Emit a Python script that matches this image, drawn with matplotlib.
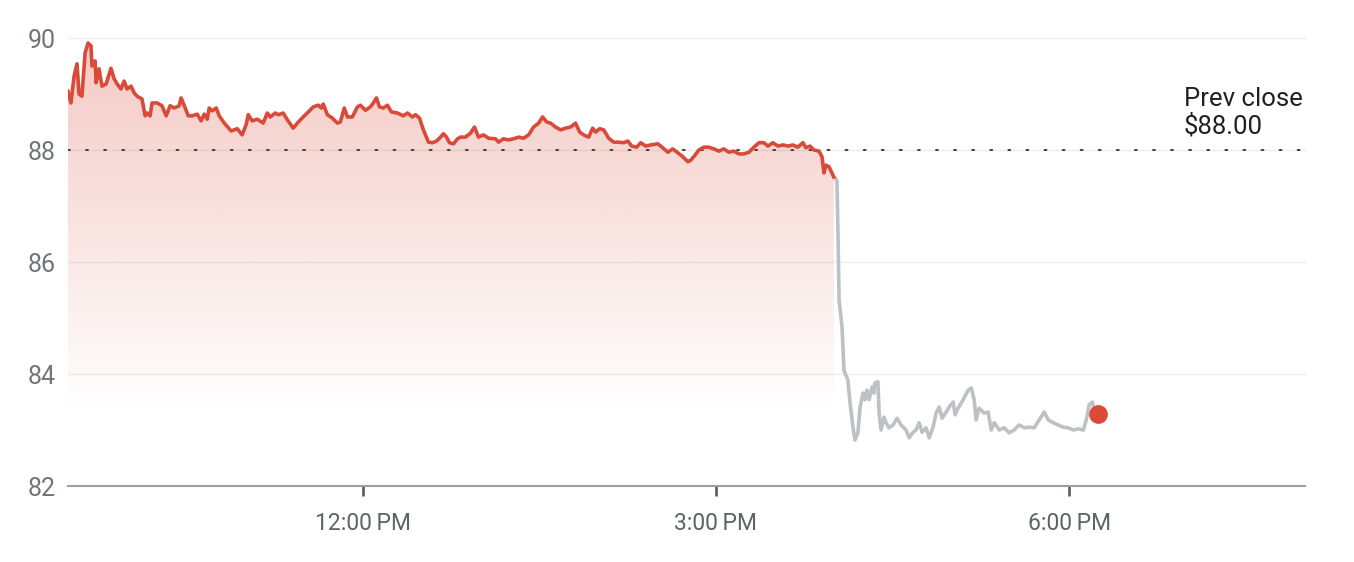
import numpy as np
import matplotlib
matplotlib.use("Agg")
import matplotlib.pyplot as plt

# ---- data: minutes after 9:30 AM and price ----
reg_minutes = [0, 1.5, 3.1, 4.6, 5.6, 7.1, 8.7, 10.2, 11.7, 12.2, 13.8, 14.3, 15.8, 17.3, 19.4,
               21.9, 23.5, 25.0, 27.0, 28.6, 30.1, 32.1, 33.7, 35.2, 37.7, 39.3, 40.3, 41.8,
               42.8, 45.4, 47.9, 50.0, 52.0, 54.1, 56.6, 57.6, 59.7, 61.2, 63.2, 65.8, 67.8,
               69.4, 70.9, 71.9, 73.4, 75.5, 77.0, 79.6, 83.1, 86.2, 88.7, 90.8, 91.8, 93.8,
               96.4, 99.4, 101.5, 103.0, 105.6, 107.1, 109.6, 111.7, 114.7, 117.3, 119.8,
               122.4, 124.9, 127.5, 129.0, 130.0, 132.1, 134.6, 137.2, 138.7, 140.7, 142.3,
               144.8, 147.4, 148.9, 151.5, 154.0, 155.5, 157.1, 158.6, 160.6, 162.7, 164.7,
               167.8, 170.8, 172.9, 175.4, 177.0, 179.0, 181.0, 183.6, 185.6, 187.7, 189.2,
               191.2, 192.8, 194.3, 196.3, 198.4, 199.9, 202.4, 205.0, 207.0, 209.1, 211.6,
               214.2, 217.7, 219.3, 221.8, 224.4, 226.9, 229.5, 232.0, 234.6, 237.1, 239.7,
               241.7, 243.8, 245.8, 248.3, 250.9, 253.4, 256.0, 258.5, 260.6, 262.6, 265.2,
               267.2, 268.7, 270.8, 272.8, 275.4, 277.9, 280.5, 283.0, 285.1, 287.1, 289.6,
               291.7, 294.2, 296.8, 300.4, 302.9, 305.5, 308.0, 310.6, 313.1, 315.7, 317.2,
               318.7, 321.3, 323.8, 326.4, 328.9, 331.5, 334.0, 336.6, 339.1, 341.7, 344.2,
               346.8, 349.3, 351.9, 354.4, 356.5, 359.0, 361.6, 364.1, 366.7, 369.2, 371.7,
               374.3, 375.8, 377.9, 379.9, 382.5, 384.0, 385.0, 386.0, 387.6, 390.0]
reg_prices = [89.05, 88.84, 89.32, 89.54, 89.00, 88.96, 89.73, 89.91, 89.86, 89.50, 89.59, 89.20,
              89.45, 89.14, 89.18, 89.46, 89.27, 89.18, 89.09, 89.23, 89.09, 89.14, 89.02, 88.96,
              88.91, 88.61, 88.66, 88.61, 88.84, 88.84, 88.79, 88.61, 88.79, 88.75, 88.79, 88.93,
              88.75, 88.61, 88.61, 88.64, 88.52, 88.64, 88.55, 88.75, 88.70, 88.75, 88.61, 88.48,
              88.34, 88.38, 88.27, 88.46, 88.63, 88.52, 88.55, 88.48, 88.66, 88.59, 88.66, 88.63,
              88.66, 88.54, 88.39, 88.50, 88.59, 88.68, 88.77, 88.80, 88.75, 88.82, 88.63, 88.57,
              88.48, 88.50, 88.75, 88.59, 88.59, 88.77, 88.80, 88.71, 88.77, 88.84, 88.93, 88.77,
              88.75, 88.80, 88.68, 88.66, 88.61, 88.66, 88.59, 88.63, 88.57, 88.36, 88.14, 88.13,
              88.16, 88.21, 88.29, 88.23, 88.13, 88.11, 88.20, 88.23, 88.23, 88.30, 88.41, 88.23,
              88.27, 88.21, 88.20, 88.14, 88.20, 88.18, 88.20, 88.23, 88.21, 88.27, 88.41, 88.48,
              88.59, 88.50, 88.48, 88.41, 88.36, 88.39, 88.41, 88.48, 88.32, 88.27, 88.23, 88.39,
              88.32, 88.38, 88.36, 88.21, 88.14, 88.14, 88.13, 88.16, 88.07, 88.05, 88.13, 88.07,
              88.09, 88.11, 88.04, 87.96, 88.02, 87.95, 87.88, 87.79, 87.82, 87.88, 88.00, 88.05,
              88.05, 88.02, 87.98, 88.02, 87.96, 87.98, 87.93, 87.93, 87.96, 88.05, 88.13, 88.13,
              88.07, 88.13, 88.07, 88.09, 88.07, 88.09, 88.05, 88.13, 88.04, 88.07, 88.00, 87.98,
              87.88, 87.59, 87.73, 87.70, 87.52]

ext_minutes = [390.0, 391.6, 392.1, 392.7, 394.2, 395.2, 395.7, 397.2, 398.3, 399.8, 400.8, 402.3,
               403.4, 404.9, 405.9, 406.9, 408.0, 409.5, 410.5, 411.0, 412.5, 413.1, 414.1, 415.6,
               416.6, 418.2, 420.2, 422.2, 424.3, 426.8, 428.4, 430.4, 431.9, 433.5, 435.0, 437.0,
               438.6, 440.6, 442.1, 443.7, 445.2, 447.2, 448.8, 450.8, 451.8, 453.3, 455.9, 458.4,
               460.0, 461.5, 462.5, 464.0, 466.6, 468.6, 470.2, 471.7, 474.3, 476.8, 479.3, 481.9,
               484.4, 487.0, 489.5, 492.1, 494.6, 497.2, 499.2, 501.8, 504.3, 506.9, 509.4, 512.0,
               514.5, 517.1, 518.6, 520.1, 521.7, 522.7]
ext_prices = [87.52, 87.46, 86.63, 85.32, 84.84, 84.07, 84.02, 83.89, 83.48, 83.05, 82.82, 82.95,
              83.41, 83.66, 83.54, 83.71, 83.54, 83.77, 83.66, 83.84, 83.86, 83.30, 83.00, 83.23,
              83.13, 83.04, 83.09, 83.21, 83.09, 83.00, 82.86, 82.96, 83.00, 83.13, 82.96, 83.04,
              82.86, 83.05, 83.30, 83.41, 83.21, 83.32, 83.41, 83.50, 83.27, 83.39, 83.54, 83.71,
              83.75, 83.54, 83.18, 83.39, 83.30, 83.32, 83.00, 83.13, 83.00, 83.04, 82.95, 83.00,
              83.09, 83.04, 83.05, 83.04, 83.18, 83.32, 83.18, 83.13, 83.09, 83.05, 83.04, 83.00,
              83.02, 83.00, 83.18, 83.45, 83.50, 83.36]

last_minute = 524.7
last_price = 83.29
prev_close = 88.00

y_ticks = [82, 84, 86, 88, 90]
x_tick_minutes = [150, 330, 510]
x_tick_labels = ["12:00\u2009PM", "3:00\u2009PM", "6:00\u2009PM"]

# ---- styling ----
RED = "#d94a38"
GRAY = "#bdc1c6"
FONT = ["Roboto", "DejaVu Sans"]
plt.rcParams["font.family"] = FONT

fig = plt.figure(figsize=(13.54, 5.62), dpi=100)
ax = fig.add_axes([68 / 1354, 1 - 486 / 562, (1305 - 68) / 1354, (486 - 38) / 562])
ax.set_xlim(0, 630)
ax.set_ylim(82, 90)

# grid
for yv in y_ticks[1:]:
    ax.axhline(yv, color="#ececec", lw=1.0, zorder=0, clip_on=False)

# gradient fill under regular-session line
poly = ax.fill_between(reg_minutes, reg_prices, 82, color="none", lw=0)
ny = 400
yy = np.linspace(90, 82, ny)
alpha = 0.30 * np.clip((yy - 83.3) / (90 - 83.3), 0, 1)
img = np.zeros((ny, 2, 4))
rgb = matplotlib.colors.to_rgb(RED)
img[..., 0], img[..., 1], img[..., 2] = rgb
img[..., 3] = alpha[:, None]
im = ax.imshow(img, extent=[0, reg_minutes[-1], 82, 90], aspect="auto", origin="upper",
               zorder=1, interpolation="bilinear")
im.set_clip_path(poly.get_paths()[0], transform=ax.transData)

# previous close dotted line
ax.axhline(prev_close, color="#3c4043", lw=1.4, linestyle=(0, (1, 8.3)), zorder=2,
           dash_capstyle="round")

ax.plot(ext_minutes, ext_prices, color=GRAY, lw=2.6, zorder=3, solid_joinstyle="round")
ax.plot(reg_minutes, reg_prices, color=RED, lw=2.6, zorder=4, solid_joinstyle="round")
ax.plot([last_minute], [last_price], "o", color=RED, ms=13.5, zorder=5, mec="none")

ax.text((1184 - 68) / (1305 - 68), 88.2, "Prev close\n$88.00", transform=ax.get_yaxis_transform(),
        ha="left", va="bottom", fontsize=18.5, color="#202124", linespacing=1.15)

# axes styling
for s in ["top", "right", "left"]:
    ax.spines[s].set_visible(False)
ax.spines["bottom"].set_color("#9aa0a6")
ax.spines["bottom"].set_linewidth(1.5)
ax.spines["bottom"].set_zorder(6)

ax.set_yticks(y_ticks)
ax.set_yticklabels([str(v) for v in y_ticks])
ax.tick_params(axis="y", length=0, pad=9, labelsize=18, labelcolor="#70757a")
ax.set_xticks(x_tick_minutes)
ax.set_xticklabels(x_tick_labels)
ax.tick_params(axis="x", length=7, width=2, color="#5f6368", pad=12, labelsize=16.5,
               labelcolor="#5f6368")

fig.savefig("out.png", dpi=100, facecolor="white")
